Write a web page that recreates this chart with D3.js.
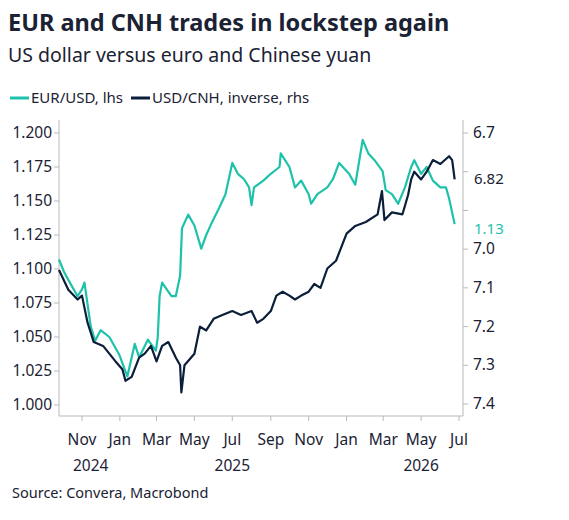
<!DOCTYPE html>
<html><head><meta charset="utf-8">
<script src="https://cdn.jsdelivr.net/npm/d3@7"></script>
<style>body{margin:0;background:#fff;font-family:"Noto Sans","Open Sans",sans-serif;}</style>
</head><body><svg width="569" height="520"></svg>
<script>
// EUR/USD
const eurDates = ['2024-09-25','2024-10-03','2024-10-10','2024-10-25','2024-11-01','2024-11-05','2024-11-15','2024-11-22','2024-12-01','2024-12-15','2024-12-31','2025-01-13','2025-01-25','2025-02-01','2025-02-15','2025-02-28','2025-03-03','2025-03-06','2025-03-10','2025-03-25','2025-04-01','2025-04-08','2025-04-11','2025-04-21','2025-05-01','2025-05-12','2025-05-20','2025-05-30','2025-06-10','2025-06-20','2025-07-01','2025-07-10','2025-07-20','2025-07-28','2025-08-01','2025-08-05','2025-08-20','2025-09-01','2025-09-15','2025-09-17','2025-10-01','2025-10-10','2025-10-20','2025-11-01','2025-11-05','2025-11-15','2025-12-01','2025-12-10','2025-12-20','2026-01-05','2026-01-15','2026-01-27','2026-02-05','2026-02-15','2026-02-28','2026-03-05','2026-03-15','2026-03-25','2026-04-05','2026-04-15','2026-04-20','2026-05-01','2026-05-10','2026-05-20','2026-06-01','2026-06-10','2026-06-15','2026-06-24'];
const eurValues = [1.107,1.098,1.092,1.080,1.085,1.090,1.058,1.047,1.055,1.050,1.037,1.021,1.045,1.035,1.048,1.040,1.050,1.080,1.090,1.080,1.080,1.095,1.130,1.140,1.132,1.115,1.125,1.135,1.145,1.155,1.178,1.170,1.166,1.160,1.147,1.160,1.165,1.170,1.175,1.185,1.175,1.160,1.165,1.155,1.148,1.155,1.160,1.166,1.178,1.170,1.162,1.195,1.185,1.180,1.172,1.158,1.155,1.148,1.160,1.175,1.180,1.170,1.175,1.165,1.160,1.160,1.152,1.133];
// USD/CNH, plotted inverted on the right axis
const cnhDates = ['2024-09-25','2024-10-10','2024-10-25','2024-11-01','2024-11-10','2024-11-20','2024-12-05','2024-12-15','2024-12-25','2025-01-05','2025-01-10','2025-01-20','2025-02-01','2025-02-10','2025-02-20','2025-03-01','2025-03-10','2025-03-20','2025-04-01','2025-04-08','2025-04-10','2025-04-15','2025-05-01','2025-05-10','2025-05-20','2025-06-01','2025-06-15','2025-07-01','2025-07-15','2025-08-01','2025-08-10','2025-08-20','2025-09-01','2025-09-10','2025-09-20','2025-10-01','2025-10-10','2025-10-20','2025-11-01','2025-11-10','2025-11-20','2025-12-01','2025-12-15','2026-01-01','2026-01-15','2026-02-01','2026-02-20','2026-02-27','2026-03-03','2026-03-15','2026-04-01','2026-04-10','2026-04-15','2026-04-20','2026-05-01','2026-05-10','2026-05-20','2026-06-01','2026-06-15','2026-06-20','2026-06-24'];
const cnhValues = [7.054,7.105,7.130,7.120,7.190,7.240,7.250,7.270,7.290,7.310,7.340,7.330,7.280,7.270,7.250,7.290,7.250,7.240,7.280,7.300,7.370,7.300,7.270,7.200,7.210,7.180,7.170,7.160,7.170,7.160,7.190,7.180,7.160,7.120,7.110,7.120,7.130,7.120,7.110,7.090,7.100,7.050,7.030,6.960,6.940,6.930,6.910,6.850,6.925,6.905,6.910,6.860,6.820,6.800,6.820,6.800,6.770,6.780,6.760,6.770,6.820];
const leftTicks = [1.000,1.025,1.050,1.075,1.100,1.125,1.150,1.175,1.200];
const rightTicks = [6.7,6.8,6.9,7.0,7.1,7.2,7.3,7.4];
const rightLabelled = [6.7,7.0,7.1,7.2,7.3,7.4];
const monthTicks = ['2024-11-01','2025-01-01','2025-03-01','2025-05-01','2025-07-01','2025-09-01','2025-11-01','2026-01-01','2026-03-01','2026-05-01','2026-07-01'];
const years = [['2024','2024-11-15'],['2025','2025-07-01'],['2026','2026-05-01']];

const TEAL = '#1ec2aa', NAVY = '#0b1e3a', INK = '#1a2233', GRID = '#b9b9b9';
const parse = d3.utcParse('%Y-%m-%d');
const svg = d3.select('svg');
const plotLeft = 59, plotRight = 463, plotTop = 120, plotBottom = 416;

const x = d3.scaleUtc().domain([parse('2024-09-25'), parse('2026-07-01')]).range([plotLeft, 459]);
const yL = d3.scaleLinear().domain([1.0, 1.2]).range([405, 133]);
const yR = d3.scaleLinear().domain([6.7, 7.4]).range([133, 404]);

svg.append('text').attr('x', 8).attr('y', 31).attr('font-size', 23.5).attr('font-weight', 700)
  .attr('fill', INK).text('EUR and CNH trades in lockstep again');
svg.append('text').attr('x', 8).attr('y', 62).attr('font-size', 19.5).attr('fill', INK)
  .text('US dollar versus euro and Chinese yuan');

// Legend
const lg = svg.append('g').attr('font-size', 15).attr('fill', INK);
lg.append('line').attr('x1', 10).attr('x2', 29).attr('y1', 98).attr('y2', 98).attr('stroke', TEAL).attr('stroke-width', 3);
lg.append('text').attr('x', 31).attr('y', 103).text('EUR/USD, lhs');
lg.append('line').attr('x1', 131).attr('x2', 150).attr('y1', 98).attr('y2', 98).attr('stroke', NAVY).attr('stroke-width', 3);
lg.append('text').attr('x', 152).attr('y', 103).text('USD/CNH, inverse, rhs');

// Axis frame
svg.append('line').attr('x1', plotLeft).attr('x2', plotLeft).attr('y1', plotTop).attr('y2', plotBottom).attr('stroke', GRID);
svg.append('line').attr('x1', plotRight).attr('x2', plotRight).attr('y1', plotTop).attr('y2', plotBottom).attr('stroke', GRID);
svg.append('line').attr('x1', plotLeft).attr('x2', plotRight).attr('y1', plotBottom).attr('y2', plotBottom).attr('stroke', GRID);

const lt = svg.append('g').attr('font-size', 15.5).attr('fill', INK);
leftTicks.forEach(v => {
  lt.append('line').attr('x1', plotLeft - 5).attr('x2', plotLeft).attr('y1', yL(v)).attr('y2', yL(v)).attr('stroke', GRID);
  lt.append('text').attr('x', plotLeft - 7).attr('y', yL(v) + 5).attr('text-anchor', 'end').text(d3.format('.3f')(v));
});
rightTicks.forEach(v => {
  lt.append('line').attr('x1', plotRight).attr('x2', plotRight + 5).attr('y1', yR(v)).attr('y2', yR(v)).attr('stroke', GRID);
});
rightLabelled.forEach(v => {
  lt.append('text').attr('x', plotRight + 10).attr('y', yR(v) + 5).text(d3.format('.1f')(v));
});

monthTicks.forEach(d => {
  const t = parse(d);
  lt.append('line').attr('x1', x(t)).attr('x2', x(t)).attr('y1', plotBottom).attr('y2', plotBottom + 5).attr('stroke', GRID);
  lt.append('text').attr('x', x(t)).attr('y', 445).attr('text-anchor', 'middle').text(d3.utcFormat('%b')(t));
});
years.forEach(([label, d]) => {
  lt.append('text').attr('x', x(parse(d))).attr('y', 471).attr('text-anchor', 'middle').text(label);
});

const eur = eurDates.map((d, i) => [parse(d), eurValues[i]]);
const cnh = cnhDates.map((d, i) => [parse(d), cnhValues[i]]);

svg.append('path').datum(eur).attr('fill', 'none').attr('stroke', TEAL).attr('stroke-width', 2.2)
  .attr('stroke-linejoin', 'round')
  .attr('d', d3.line().x(d => x(d[0])).y(d => yL(d[1])));
svg.append('path').datum(cnh).attr('fill', 'none').attr('stroke', NAVY).attr('stroke-width', 2.2)
  .attr('stroke-linejoin', 'round')
  .attr('d', d3.line().x(d => x(d[0])).y(d => yR(d[1])));

// Last value labels
const lastCnh = cnhValues[cnhValues.length - 1];
const lastEur = eurValues[eurValues.length - 1];
svg.append('text').attr('x', plotRight + 11).attr('y', yR(lastCnh) + 5).attr('font-size', 15).attr('fill', INK)
  .text(d3.format('.2f')(lastCnh));
svg.append('text').attr('x', plotRight + 11).attr('y', yL(lastEur) + 10).attr('font-size', 15).attr('fill', TEAL)
  .text(d3.format('.2f')(lastEur));

svg.append('text').attr('x', 12).attr('y', 498).attr('font-size', 14.5).attr('fill', INK)
  .text('Source: Convera, Macrobond');
</script></body></html>
